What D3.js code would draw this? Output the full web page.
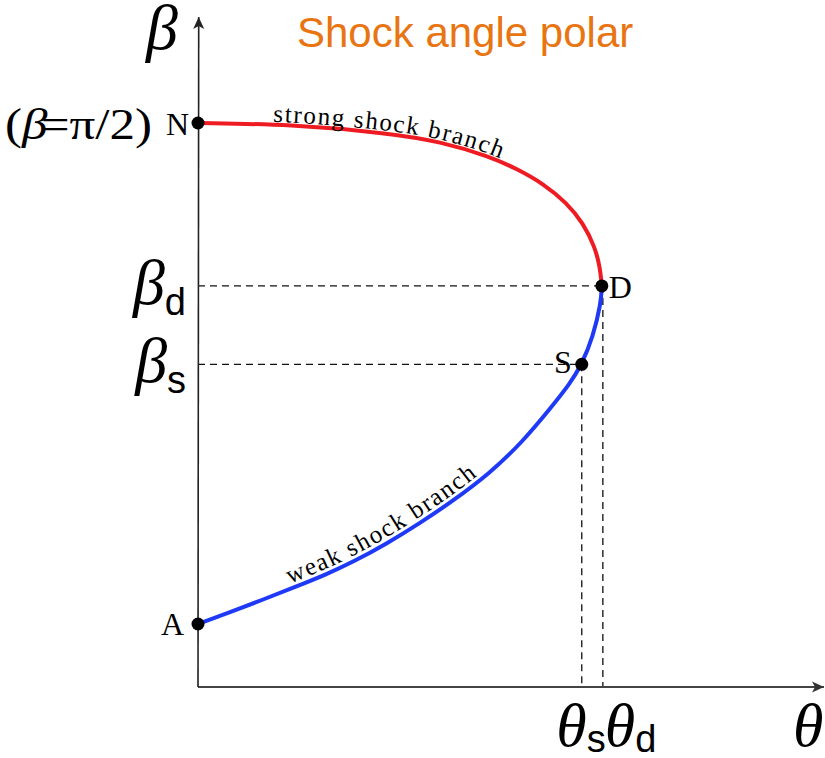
<!DOCTYPE html>
<html>
<head>
<meta charset="utf-8">
<script src="https://cdn.jsdelivr.net/npm/d3@7"></script>
<style>
  html, body { margin: 0; padding: 0; background: #fff; }
  svg { display: block; }
</style>
</head>
<body>
<svg id="chart" width="825" height="758"></svg>
<script>
// Shock angle polar: deflection angle theta (deg) against shock angle beta (deg)
// Weak branch: from the Mach angle (A) up to the detachment point (D)
const weakTheta = [0, 3.05, 6.50, 9.85, 12.89, 15.74, 19.19, 22.54, 25.58, 29.64, 32.99, 35.74, 37.77, 38.96, 40.10, 40.91, 41.00];
const weakBeta  = [10.05, 11.81, 13.88, 15.96, 17.87, 19.95, 22.90, 26.17, 29.36, 34.10, 39.20, 44.40, 48.40, 51.49, 55.85, 61.28, 64.00];
// Strong branch: from the normal shock (N) down to the detachment point (D)
const strongTheta = [0, 9.34, 19.49, 24.57, 29.64, 32.39, 35.03, 37.46, 39.09, 40.30, 40.81, 41.00];
const strongBeta  = [90.00, 89.79, 88.36, 87.05, 84.65, 82.66, 80.35, 77.23, 74.04, 70.21, 67.02, 64.00];

// Marked points
const pointNames = ["N", "D", "S", "A"];
const pointTheta = [0, 41.00, 38.96, 0];
const pointBeta  = [90.00, 64.00, 51.49, 10.05];

// Tick labels on both axes (symbol, subscript, value)
const betaTickMain = ["β", "β"];
const betaTickSub  = ["d", "s"];
const betaTickVal  = [64.00, 51.49];
const thetaTickMain = ["θ", "θ"];
const thetaTickSub  = ["s", "d"];
const thetaTickVal  = [38.96, 41.00];

const title = "Shock angle polar";
const strongLabel = "strong shock branch";
const weakLabel = "weak shock branch";

const svg = d3.select("#chart");
const x = d3.scaleLinear().domain([0, 45]).range([198, 641.25]);
const y = d3.scaleLinear().domain([0, 90]).range([687, 123]);

const serif = "'Liberation Serif', 'Times New Roman', serif";
const sans = "'Liberation Sans', Arial, sans-serif";

// arrowheads
const defs = svg.append("defs");
defs.append("marker").attr("id", "arrowX")
  .attr("viewBox", "0 0 12 12").attr("refX", 12).attr("refY", 6)
  .attr("markerWidth", 12).attr("markerHeight", 12).attr("markerUnits", "userSpaceOnUse")
  .attr("orient", "auto")
  .append("path").attr("d", "M0,0.5 L12,6 L0,11.5 L3,6 Z").attr("fill", "#333");
defs.append("marker").attr("id", "arrowY")
  .attr("viewBox", "0 0 12 12").attr("refX", 12).attr("refY", 6)
  .attr("markerWidth", 12).attr("markerHeight", 12).attr("markerUnits", "userSpaceOnUse")
  .attr("orient", "auto")
  .append("path").attr("d", "M0,0.5 L12,6 L0,11.5 L3,6 Z").attr("fill", "#222");

// guide lines from S and D to both axes
const guides = svg.append("g").attr("stroke", "#111").attr("stroke-width", 1.3)
  .attr("stroke-dasharray", "7,5").attr("fill", "none");
[1, 2].forEach(i => {
  guides.append("line")
    .attr("x1", x(0)).attr("y1", y(pointBeta[i]))
    .attr("x2", x(pointTheta[i])).attr("y2", y(pointBeta[i]));
  guides.append("line")
    .attr("x1", x(pointTheta[i]) + (i === 1 ? 1 : 0)).attr("y1", y(pointBeta[i]))
    .attr("x2", x(pointTheta[i]) + (i === 1 ? 1 : 0)).attr("y2", y(0));
});

// axes
svg.append("line").attr("x1", x(0)).attr("y1", y(0)).attr("x2", 824).attr("y2", y(0))
  .attr("stroke", "#444").attr("stroke-width", 2).attr("marker-end", "url(#arrowX)");
svg.append("line").attr("x1", x(0)).attr("y1", y(0)).attr("x2", x(0) + 0.7).attr("y2", 17)
  .attr("stroke", "#222").attr("stroke-width", 1.6).attr("marker-end", "url(#arrowY)");

// branches (B-spline through the sampled points keeps the arcs smooth)
const line = d3.line().x(d => x(d[0])).y(d => y(d[1])).curve(d3.curveBasis);
const weak = d3.zip(weakTheta, weakBeta);
const strong = d3.zip(strongTheta, strongBeta);
svg.append("path").attr("id", "weakBranch").attr("d", line(weak))
  .attr("fill", "none").attr("stroke", "#1f3af7").attr("stroke-width", 4);
svg.append("path").attr("id", "strongBranch").attr("d", line(strong))
  .attr("fill", "none").attr("stroke", "#ee1b23").attr("stroke-width", 4);

// branch labels following the curves
svg.append("text").attr("font-family", serif).attr("font-size", 25)
  .attr("letter-spacing", 1.6).attr("dy", -3)
  .append("textPath").attr("href", "#strongBranch").attr("startOffset", 75)
  .text(strongLabel);
svg.append("text").attr("font-family", serif).attr("font-size", 25)
  .attr("letter-spacing", 1.7).attr("dy", -5)
  .append("textPath").attr("href", "#weakBranch").attr("startOffset", 100)
  .text(weakLabel);

// points
svg.append("g").selectAll("circle").data(pointNames).join("circle")
  .attr("cx", (d, i) => x(pointTheta[i])).attr("cy", (d, i) => y(pointBeta[i]))
  .attr("r", 6.5).attr("fill", "#000");

// point names
const nameOffsets = { N: [-9, 12, "end"], D: [7, 12, "start"], S: [-10, 9, "end"], A: [-14, 11, "end"] };
svg.append("g").selectAll("text").data(pointNames).join("text")
  .attr("x", (d, i) => x(pointTheta[i]) + nameOffsets[d][0])
  .attr("y", (d, i) => y(pointBeta[i]) + nameOffsets[d][1])
  .attr("text-anchor", d => nameOffsets[d][2])
  .attr("font-family", serif).attr("font-size", 32)
  .text(d => d);

// beta tick labels
betaTickMain.forEach((m, i) => {
  const t = svg.append("text").attr("x", 186).attr("y", y(betaTickVal[i]) + 18)
    .attr("text-anchor", "end");
  t.append("tspan").attr("font-family", serif).attr("font-style", "italic")
    .attr("font-size", 64).text(m);
  t.append("tspan").attr("font-family", sans).attr("font-size", 38).attr("dy", 11)
    .text(betaTickSub[i]);
});

// theta tick labels
thetaTickMain.forEach((m, i) => {
  const isS = thetaTickSub[i] === "s";
  const t = svg.append("text")
    .attr("x", isS ? x(thetaTickVal[i]) + 24 : x(thetaTickVal[i]) + 3)
    .attr("y", 746).attr("text-anchor", isS ? "end" : "start");
  t.append("tspan").attr("font-family", serif).attr("font-style", "italic")
    .attr("font-size", 62).text(m);
  t.append("tspan").attr("font-family", sans).attr("font-size", 38).attr("dy", 6)
    .text(thetaTickSub[i]);
});

// axis titles
svg.append("text").attr("x", 146).attr("y", 49)
  .attr("font-family", serif).attr("font-style", "italic").attr("font-size", 64).text("β");
svg.append("text").attr("x", 793).attr("y", 746)
  .attr("font-family", serif).attr("font-style", "italic").attr("font-size", 62).text("θ");

// normal shock annotation
const note = svg.append("text").attr("x", 5).attr("y", 139)
  .attr("font-family", serif).attr("font-size", 45)
  .attr("textLength", 147).attr("lengthAdjust", "spacingAndGlyphs");
note.append("tspan").text("(");
note.append("tspan").attr("font-style", "italic").text("β");
note.append("tspan").attr("dx", -6).text("=π/2)");

// title
svg.append("text").attr("x", 297).attr("y", 47)
  .attr("font-family", sans).attr("font-size", 42).attr("fill", "#e87511")
  .text(title);
</script>
</body>
</html>
